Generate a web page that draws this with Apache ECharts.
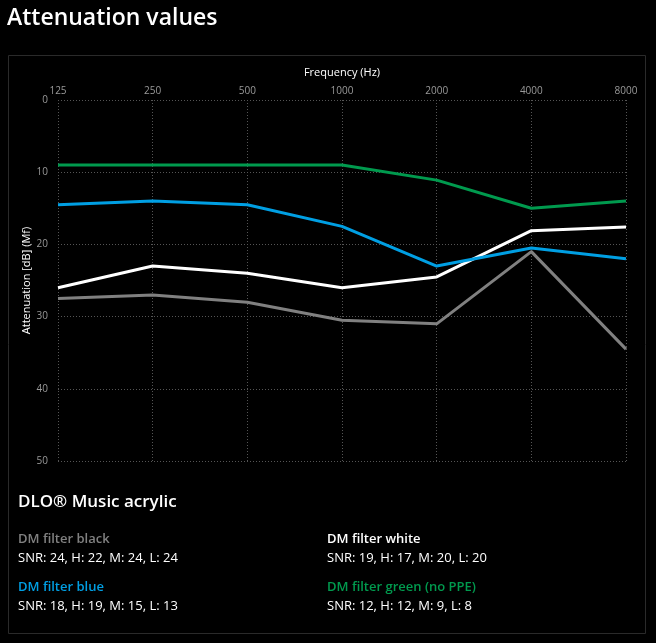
<!DOCTYPE html>
<html><head><meta charset="utf-8">
<script src="https://cdn.jsdelivr.net/npm/echarts@6/dist/echarts.min.js"></script>
<style>html,body{margin:0;padding:0;background:#000;}#c{width:656px;height:643px;}</style>
</head><body><div id="c"></div>
<script>
const frequencies = ['125','250','500','1000','2000','4000','8000'];
const filterBlack = [27.5, 27, 28, 30.5, 31, 21, 34.5];
const filterWhite = [26, 23, 24, 26, 24.5, 18.1, 17.6];
const filterBlue = [14.5, 14, 14.5, 17.5, 23, 20.5, 22];
const filterGreen = [9, 9, 9, 9, 11.1, 15, 14];
const seriesNames = ['DM filter black','DM filter white','DM filter blue','DM filter green (no PPE)'];
const seriesColors = ['#808080','#ffffff','#009fe3','#009a4e'];
const snrTexts = ['SNR: 24, H: 22, M: 24, L: 24','SNR: 19, H: 17, M: 20, L: 20','SNR: 18, H: 19, M: 15, L: 13','SNR: 12, H: 12, M: 9, L: 8'];
const productName = 'DLO® Music acrylic';

const font = '"Open Sans", "Noto Sans", sans-serif';
const chart = echarts.init(document.getElementById('c'));
const datas = [filterBlack, filterWhite, filterBlue, filterGreen];
const legendPos = [[18,542],[327,542],[18,590],[327,590]];
const graphics = [
  {type:'rect', shape:{x:8.5,y:55.5,width:637,height:578}, style:{fill:'none', stroke:'#2a2a2a', lineWidth:1}, z:-1},
  {type:'text', left:7, top:7, style:{text:'Attenuation values', fill:'#fff', font:'600 23px '+font}},
  {type:'text', left:18, top:494, style:{text:productName, fill:'#fff', font:'600 17px '+font}}
];
seriesNames.forEach((n,i)=>{
  graphics.push({type:'text', left:legendPos[i][0], top:legendPos[i][1]-9, style:{text:n, fill:seriesColors[i], font:'600 13px '+font}});
  graphics.push({type:'text', left:legendPos[i][0], top:legendPos[i][1]+10, style:{text:snrTexts[i], fill:'#fff', font:'400 13px '+font}});
});
chart.setOption({
  backgroundColor:'#000',
  animation:false,
  graphic: graphics,
  grid:{left:58, right:30, top:100, bottom:182},
  xAxis:{
    type:'category', data:frequencies, position:'top', boundaryGap:false,
    name:'Frequency (Hz)', nameLocation:'middle', nameGap:28,
    nameTextStyle:{color:'#fff', fontSize:11, fontFamily:font, padding:[0,0,-6,0]},
    axisLine:{show:false}, axisTick:{show:false},
    axisLabel:{color:'#999', fontSize:10, fontFamily:font, margin:4},
    splitLine:{show:true, lineStyle:{color:'#555', type:[1,2], width:1}}
  },
  yAxis:{
    type:'value', inverse:true, min:0, max:50, interval:10,
    name:'Attenuation [dB] (Mf)', nameLocation:'middle', nameGap:26, nameMoveOverlap:false,
    nameTextStyle:{color:'#fff', fontSize:11, fontFamily:font},
    axisLine:{show:false}, axisTick:{show:false},
    axisLabel:{color:'#999', fontSize:10, fontFamily:font, margin:10},
    splitLine:{show:true, lineStyle:{color:'#555', type:[1,2], width:1}}
  },
  series: seriesNames.map((n,i)=>({
    name:n, type:'line', data:datas[i], symbol:'none',
    lineStyle:{color:seriesColors[i], width:3}, itemStyle:{color:seriesColors[i]}
  }))
});
</script></body></html>
